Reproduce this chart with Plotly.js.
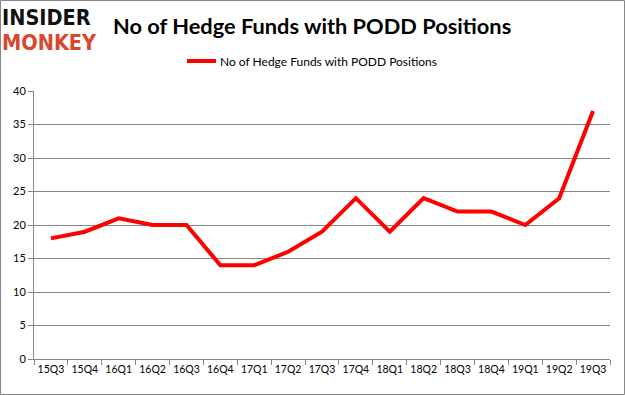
<!DOCTYPE html>
<html>
<head>
<meta charset="utf-8">
<script src="https://cdn.plot.ly/plotly-3.0.1.min.js"></script>
<style>html,body{margin:0;padding:0;background:#fff;}#chart{width:625px;height:395px;}</style>
</head>
<body>
<div id="chart"></div>
<script>
const quarters = ["15Q3","15Q4","16Q1","16Q2","16Q3","16Q4","17Q1","17Q2","17Q3","17Q4","18Q1","18Q2","18Q3","18Q4","19Q1","19Q2","19Q3"];
const funds = [18,19,21,20,20,14,14,16,19,24,19,24,22,22,20,24,37];
const seriesName = "No of Hedge Funds with PODD Positions";
const chartTitle = "No of Hedge Funds with PODD Positions";
const yTicks = [0,5,10,15,20,25,30,35,40];

const L=34, R=610, T=91, B=359;
const px = x => (x - L) / (R - L);
const py = y => (B - y) / (B - T);
const FONT = 'Lato, Open Sans, sans-serif';
const LOGO = 'DejaVu Sans Condensed, DejaVu Sans, sans-serif';

const trace = {
  x: quarters, y: funds, type: 'scatter', mode: 'lines', name: seriesName,
  line: {color: '#ff0000', width: 4}
};

const layout = {
  width: 625, height: 395,
  margin: {l: L, r: 625 - R, t: T, b: 395 - B},
  paper_bgcolor: '#ffffff', plot_bgcolor: '#ffffff',
  font: {family: FONT, color: '#000'},
  showlegend: false,
  xaxis: {
    type: 'category', range: [-0.5, 16.5], tickson: 'boundaries', ticks: 'outside', ticklen: 5,
    tickcolor: '#868686', showline: true, linecolor: '#868686', linewidth: 1, showgrid: false,
    tickangle: 0, tickfont: {size: 10.5, family: FONT, color: '#000'}, fixedrange: true
  },
  yaxis: {
    range: [0, 40], tickvals: yTicks, ticks: 'outside', ticklen: 5, tickcolor: '#868686',
    showline: true, linecolor: '#868686', showgrid: true, gridcolor: '#868686', gridwidth: 1,
    zeroline: false, tickfont: {size: 11, family: FONT, color: '#000'}, fixedrange: true
  },
  shapes: [
    {type: 'rect', xref: 'paper', yref: 'paper', x0: px(0.5), x1: px(624.5), y0: py(394.5), y1: py(0.5),
     line: {color: '#888888', width: 1}, fillcolor: 'rgba(0,0,0,0)', layer: 'below'},
    {type: 'line', xref: 'paper', yref: 'paper', x0: px(187), x1: px(216), y0: py(61), y1: py(61),
     line: {color: '#ff0000', width: 4}}
  ],
  annotations: [
    {text: '<b>' + chartTitle + '</b>', xref: 'paper', yref: 'paper', x: px(312), y: py(26),
     xanchor: 'center', yanchor: 'middle', showarrow: false,
     font: {size: 21.8, family: FONT, color: '#000'}},
    {text: seriesName, xref: 'paper', yref: 'paper', x: px(218), y: py(61),
     xanchor: 'left', yanchor: 'middle', showarrow: false,
     font: {size: 12, family: FONT, color: '#000'}},
    {text: '<b>INSIDER</b>', xref: 'paper', yref: 'paper', x: px(1), y: py(17),
     xanchor: 'left', yanchor: 'middle', showarrow: false, borderpad: 0,
     font: {size: 21.5, family: LOGO, color: '#111'}},
    {text: '<b>MONKEY</b>', xref: 'paper', yref: 'paper', x: px(1), y: py(42),
     xanchor: 'left', yanchor: 'middle', showarrow: false, borderpad: 0,
     font: {size: 21.5, family: LOGO, color: '#d9472f'}}
  ]
};

Plotly.newPlot('chart', [trace], layout, {displayModeBar: false, staticPlot: true});
</script>
</body>
</html>
